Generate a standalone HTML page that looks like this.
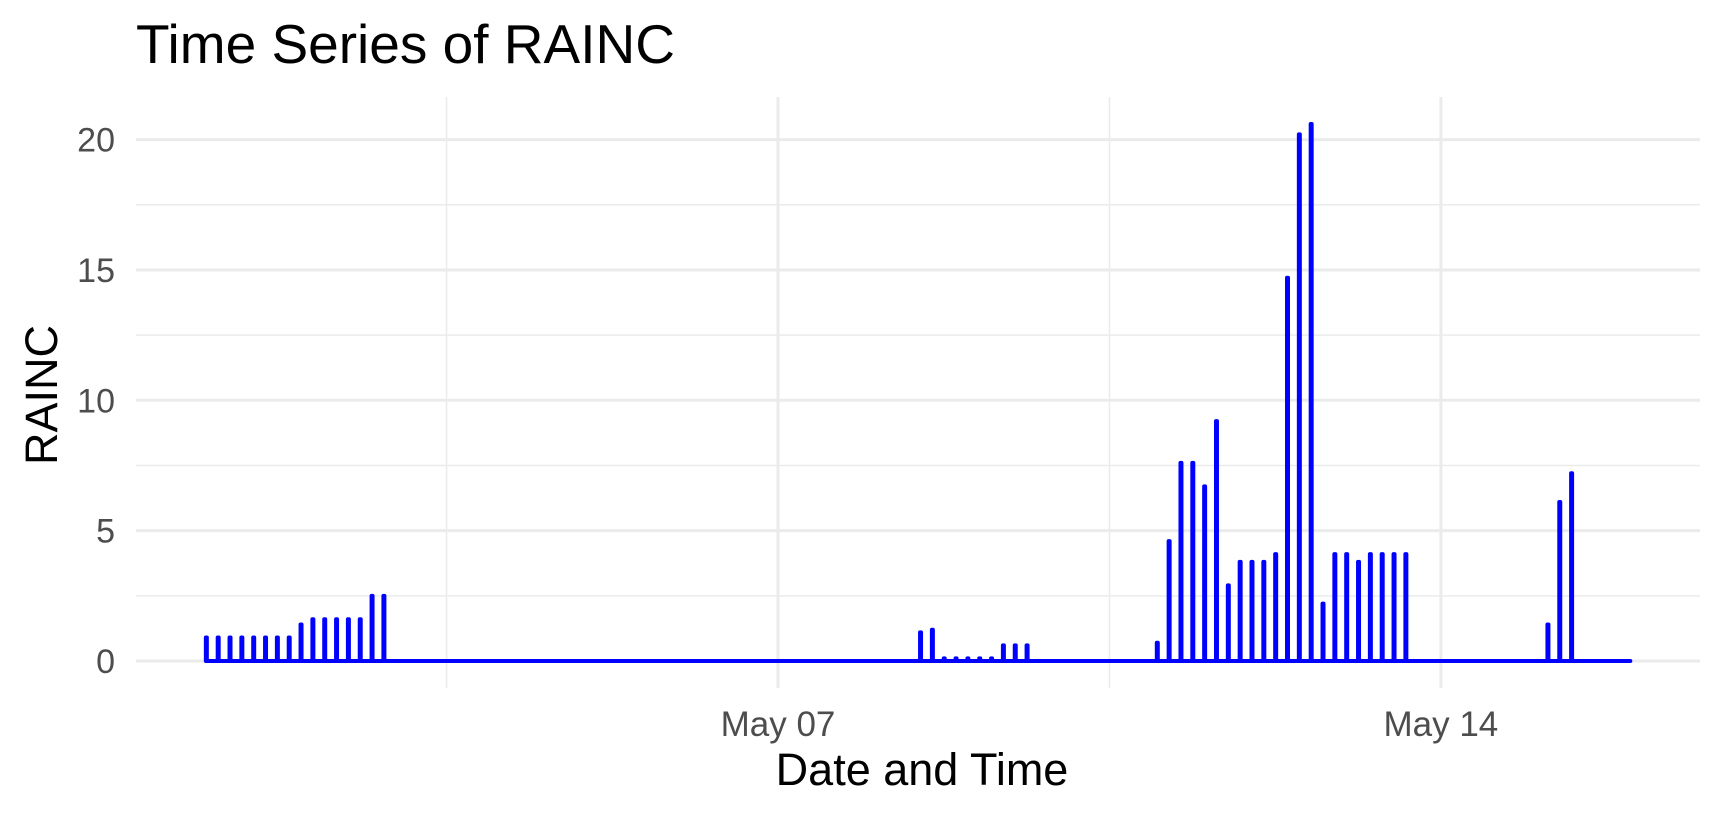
<!DOCTYPE html>
<html><head><meta charset="utf-8">
<style>
html,body{margin:0;padding:0;background:#fff;}
svg{display:block;font-family:"Liberation Sans",Arial,sans-serif;}
</style></head>
<body>
<svg id="chart" width="1725" height="817" viewBox="0 0 1725 817">
  <text x="136" y="63" font-size="55" fill="#000">Time Series of RAINC</text>
  <g id="grid"></g>
  <g id="axes"></g>
  <path id="series" fill="none" stroke="#0000FF" stroke-width="4" stroke-linejoin="round" stroke-linecap="round"></path>
  <text x="922" y="785" font-size="45" text-anchor="middle" fill="#000">Date and Time</text>
  <text transform="translate(57,395) rotate(-90)" font-size="45" text-anchor="middle" fill="#000">RAINC</text>
</svg>
<script>
// Spikes: hours since May 1 00:00 and RAINC values
const spikeHours = [-1,2,5,8,11,14,17,20,23,26,29,32,35,38,41,44,
  180,183,186,189,192,195,198,201,204,207,
  240,243,246,249,252,255,258,261,264,267,270,273,276,279,282,285,288,291,294,297,300,303,
  339,342,345];
const spikeValues = [0.9,0.9,0.9,0.9,0.9,0.9,0.9,0.9,1.4,1.6,1.6,1.6,1.6,1.6,2.5,2.5,
  1.1,1.2,0.1,0.1,0.1,0.1,0.1,0.6,0.6,0.6,
  0.7,4.6,7.6,7.6,6.7,9.2,2.9,3.8,3.8,3.8,4.1,14.7,20.2,20.6,2.2,4.1,4.1,3.8,4.1,4.1,4.1,4.1,
  1.4,6.1,7.2];
const seriesStartHour = -1;
const seriesEndHour = 360;
const yTicks = [0,5,10,15,20];
const yMinor = [2.5,7.5,12.5,17.5];
const xTickDays = [6,13];
const xTickLabels = ["May 07","May 14"];
const xMinorDays = [2.5,9.5];

const NS = "http://www.w3.org/2000/svg";
const panel = {left:136, right:1700, top:97, bottom:688};
const x0 = 209.8, pxPerDay = 94.7;
function xDays(d){ return x0 + d*pxPerDay; }
function xHours(h){ return xDays(h/24); }
const yPerUnit = 26.07;
function y(v){ return 661 - v*yPerUnit; }

const grid = document.getElementById('grid');
const axes = document.getElementById('axes');
function line(parent,x1,y1,x2,y2,w){
  const l=document.createElementNS(NS,'line');
  l.setAttribute('x1',x1);l.setAttribute('y1',y1);l.setAttribute('x2',x2);l.setAttribute('y2',y2);
  l.setAttribute('stroke','#EBEBEB');l.setAttribute('stroke-width',w);
  parent.appendChild(l);return l;
}
yMinor.forEach(v=>{
  const l=line(grid,panel.left,y(v),panel.right,y(v),1.5);
  
  
});
xMinorDays.forEach(d=>{
  const l=line(grid,xDays(d),panel.top,xDays(d),panel.bottom,1.5);
  
  
});
yTicks.forEach(v=>{
  const l=line(grid,panel.left,y(v),panel.right,y(v),3);
  
  
  const t=document.createElementNS(NS,'text');
  t.setAttribute('x',115);t.setAttribute('y',y(v)+12);
  t.setAttribute('text-anchor','end');t.setAttribute('font-size','34');t.setAttribute('fill','#4D4D4D');
  t.textContent=v;
  
  
  axes.appendChild(t);
});
xTickDays.forEach((d,i)=>{
  const l=line(grid,xDays(d),panel.top,xDays(d),panel.bottom,3);
  
  
  const t=document.createElementNS(NS,'text');
  t.setAttribute('x',xDays(d));t.setAttribute('y',736);
  t.setAttribute('text-anchor','middle');t.setAttribute('font-size','35');t.setAttribute('fill','#4D4D4D');
  t.textContent=xTickLabels[i];
  
  
  axes.appendChild(t);
});

// series path: baseline with narrow spikes
const spikeHalfWidth = 0.25; // hours
let d = 'M'+xHours(seriesStartHour)+','+y(0);
spikeHours.forEach((h,i)=>{
  const v=spikeValues[i];
  d += ' L'+xHours(h)+','+y(0)+' L'+xHours(h)+','+y(v)+' L'+xHours(h+spikeHalfWidth)+','+y(v)+' L'+xHours(h+spikeHalfWidth)+','+y(0);
});
d += ' L'+xHours(seriesEndHour)+','+y(0);
document.getElementById('series').setAttribute('d',d);
</script>
</body></html>
